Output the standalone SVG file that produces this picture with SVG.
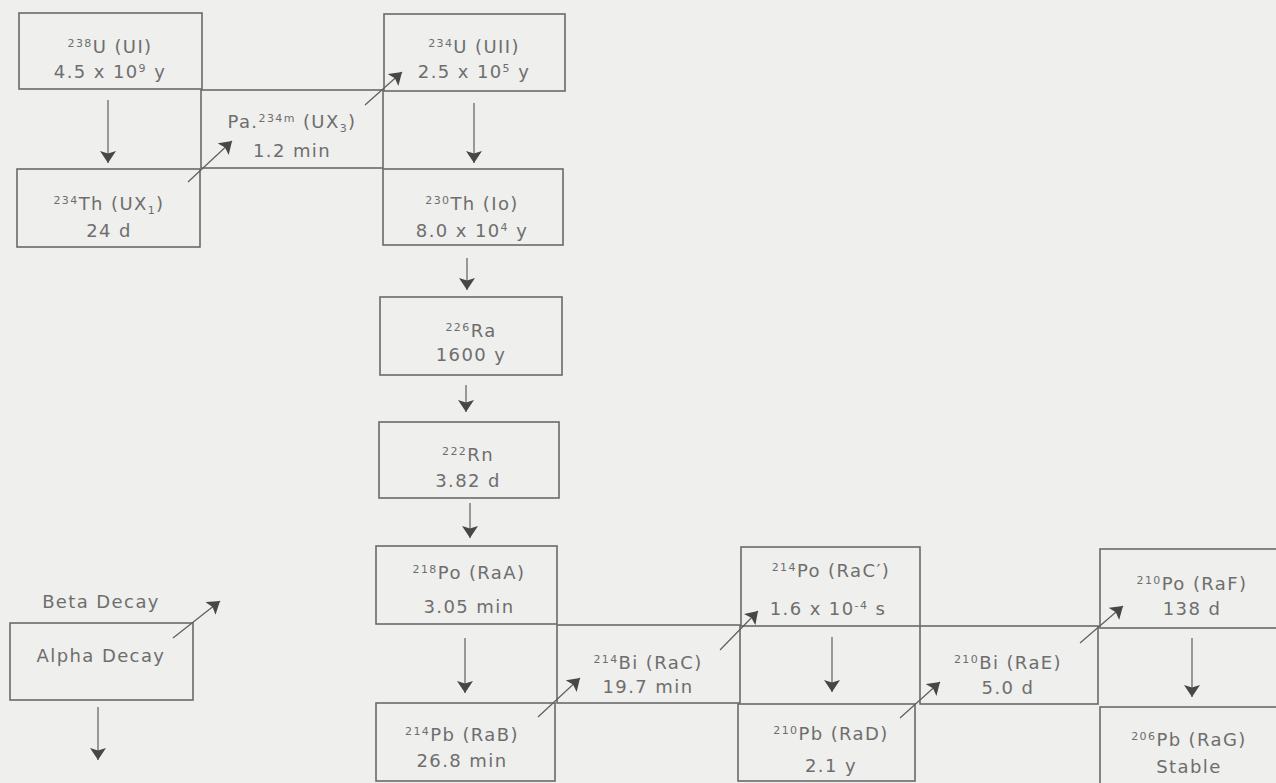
<svg xmlns="http://www.w3.org/2000/svg" width="1276" height="783" viewBox="0 0 1276 783">
<style>
.box{fill:none;stroke:#6a6a6a;stroke-width:1.6}
.t{font-family:"DejaVu Sans",sans-serif;font-size:18px;fill:#6e6e6e;text-anchor:middle;letter-spacing:1.4px}
.s{font-size:11px}
.c{stroke:#5e5e5e;stroke-width:1.2;fill:none;marker-end:url(#ah)}
</style>
<defs>
<marker id="ah" markerUnits="userSpaceOnUse" markerWidth="13" markerHeight="16" refX="12" refY="8" orient="auto" viewBox="0 0 13 16">
<path d="M0,0 L12,8 L0,16 L2.5,8 z" fill="#474747"/>
</marker>
</defs>
<rect width="1276" height="783" fill="#efefed"/>
<g id="U238"><rect class="box" x="19" y="13" width="183" height="76"/><text class="t" x="110" y="53"><tspan class="s" dy="-6">238</tspan><tspan dy="6">U (UI)</tspan></text><text class="t" x="110" y="78">4.5 x 10<tspan class="s" dy="-6">9</tspan><tspan dy="6"> y</tspan></text></g>
<g id="Pa234m"><rect class="box" x="201" y="90" width="182" height="78"/><text class="t" x="292" y="128">Pa.<tspan class="s" dy="-6">234m</tspan><tspan dy="6"> (UX</tspan><tspan class="s" dy="4">3</tspan><tspan dy="-4">)</tspan></text><text class="t" x="292" y="157">1.2 min</text></g>
<g id="Th234"><rect class="box" x="17" y="169" width="183" height="78"/><text class="t" x="109" y="210"><tspan class="s" dy="-6">234</tspan><tspan dy="6">Th (UX</tspan><tspan class="s" dy="4">1</tspan><tspan dy="-4">)</tspan></text><text class="t" x="109" y="237">24 d</text></g>
<g id="U234"><rect class="box" x="384" y="14" width="181" height="77"/><text class="t" x="474" y="53"><tspan class="s" dy="-6">234</tspan><tspan dy="6">U (UII)</tspan></text><text class="t" x="474" y="78">2.5 x 10<tspan class="s" dy="-6">5</tspan><tspan dy="6"> y</tspan></text></g>
<g id="Th230"><rect class="box" x="383" y="169" width="180" height="76"/><text class="t" x="472" y="210"><tspan class="s" dy="-6">230</tspan><tspan dy="6">Th (Io)</tspan></text><text class="t" x="472" y="237">8.0 x 10<tspan class="s" dy="-6">4</tspan><tspan dy="6"> y</tspan></text></g>
<g id="Ra226"><rect class="box" x="380" y="297" width="182" height="78"/><text class="t" x="471" y="337"><tspan class="s" dy="-6">226</tspan><tspan dy="6">Ra</tspan></text><text class="t" x="471" y="361">1600 y</text></g>
<g id="Rn222"><rect class="box" x="379" y="422" width="180" height="76"/><text class="t" x="468" y="461"><tspan class="s" dy="-6">222</tspan><tspan dy="6">Rn</tspan></text><text class="t" x="468" y="487">3.82 d</text></g>
<g id="Po218"><rect class="box" x="376" y="546" width="181" height="78"/><text class="t" x="469" y="579"><tspan class="s" dy="-6">218</tspan><tspan dy="6">Po (RaA)</tspan></text><text class="t" x="469" y="613">3.05 min</text></g>
<g id="Bi214"><rect class="box" x="557" y="625" width="183" height="78"/><text class="t" x="648" y="669"><tspan class="s" dy="-6">214</tspan><tspan dy="6">Bi (RaC)</tspan></text><text class="t" x="648" y="693">19.7 min</text></g>
<g id="Pb214"><rect class="box" x="376" y="703" width="179" height="78"/><text class="t" x="462" y="741"><tspan class="s" dy="-6">214</tspan><tspan dy="6">Pb (RaB)</tspan></text><text class="t" x="462" y="767">26.8 min</text></g>
<g id="Po214"><rect class="box" x="741" y="547" width="179" height="79"/><text class="t" x="831" y="577"><tspan class="s" dy="-6">214</tspan><tspan dy="6">Po (RaC′)</tspan></text><text class="t" x="828" y="615">1.6 x 10<tspan class="s" dy="-6">-4</tspan><tspan dy="6"> s</tspan></text></g>
<g id="Bi210"><rect class="box" x="920" y="626" width="178" height="78"/><text class="t" x="1008" y="669"><tspan class="s" dy="-6">210</tspan><tspan dy="6">Bi (RaE)</tspan></text><text class="t" x="1008" y="694">5.0 d</text></g>
<g id="Pb210"><rect class="box" x="738" y="704" width="177" height="77"/><text class="t" x="831" y="740"><tspan class="s" dy="-6">210</tspan><tspan dy="6">Pb (RaD)</tspan></text><text class="t" x="831" y="772">2.1 y</text></g>
<g id="Po210"><rect class="box" x="1100" y="549" width="190" height="79"/><text class="t" x="1192" y="590"><tspan class="s" dy="-6">210</tspan><tspan dy="6">Po (RaF)</tspan></text><text class="t" x="1192" y="615">138 d</text></g>
<g id="Pb206"><rect class="box" x="1100" y="707" width="190" height="90"/><text class="t" x="1189" y="746"><tspan class="s" dy="-6">206</tspan><tspan dy="6">Pb (RaG)</tspan></text><text class="t" x="1189" y="773">Stable</text></g>
<g id="legend"><rect class="box" x="10" y="623" width="183" height="77"/><text class="t" x="101" y="608">Beta Decay</text><text class="t" x="101" y="662">Alpha Decay</text></g>
<g id="connectors">
<line class="c" x1="108" y1="100" x2="108" y2="163"/>
<line class="c" x1="474" y1="103" x2="474" y2="163"/>
<line class="c" x1="467" y1="258" x2="467" y2="290"/>
<line class="c" x1="466" y1="385" x2="466" y2="412"/>
<line class="c" x1="470" y1="503" x2="470" y2="538"/>
<line class="c" x1="465" y1="638" x2="465" y2="693"/>
<line class="c" x1="832" y1="637" x2="832" y2="692"/>
<line class="c" x1="1192" y1="638" x2="1192" y2="697"/>
<line class="c" x1="98" y1="707" x2="98" y2="760"/>
<line class="c" x1="188" y1="182" x2="232" y2="141"/>
<line class="c" x1="365" y1="105" x2="402" y2="72"/>
<line class="c" x1="538" y1="717" x2="580" y2="678"/>
<line class="c" x1="720" y1="650" x2="758" y2="611"/>
<line class="c" x1="900" y1="718" x2="940" y2="682"/>
<line class="c" x1="1080" y1="643" x2="1123" y2="606"/>
<line class="c" x1="173" y1="638" x2="220" y2="601"/>
</g>
</svg>
